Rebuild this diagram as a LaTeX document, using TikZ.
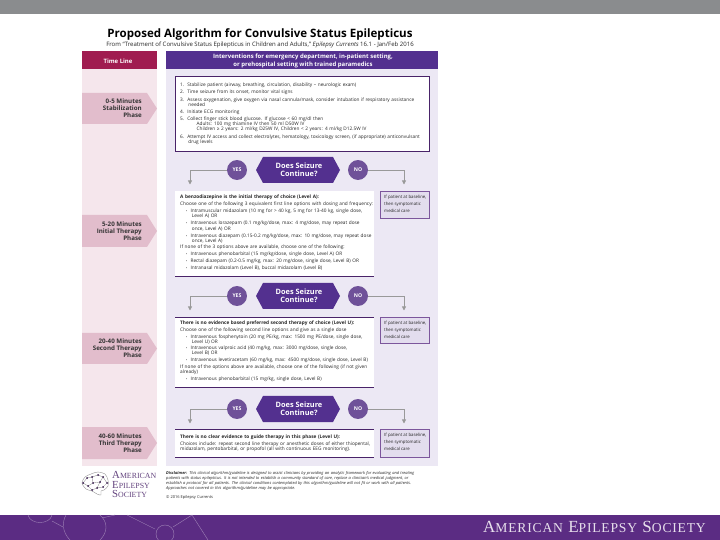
\documentclass[tikz,border=0pt]{standalone}
\usepackage{fontspec}
\setmainfont{Open Sans}
\newfontfamily\footfont[LetterSpace=6]{Liberation Serif}
\newfontfamily\logofont{Liberation Serif}
\usepackage{tikz}
\usetikzlibrary{calc,arrows.meta,positioning}
\definecolor{aesPurple}{HTML}{5B2C83}
\definecolor{aesDeep}{HTML}{53308F}
\definecolor{aesRed}{HTML}{A01C50}
\definecolor{aesLav}{HTML}{ECE8F4}
\definecolor{aesSide}{HTML}{E3DDEE}
\definecolor{aesPink}{HTML}{F5E6EC}
\definecolor{aesPhase}{HTML}{E2BDCC}
\definecolor{aesCircle}{HTML}{6F5199}
\definecolor{aesGray}{HTML}{8A8C8E}
\newcommand{\tiptext}{\fontsize{4.05}{4.3}\selectfont}
\newcommand{\itembul}{\hspace*{5pt}{\fontsize{3}{4}\selectfont\textbullet}\ \ }
\tikzset{
  band/.style={fill=#1, draw=none},
  hexa/.style={fill=aesDeep, draw=none},
  answer/.style={circle, fill=aesCircle, minimum size=17pt, inner sep=0pt, text=white, font=\fontsize{4.4}{5}\selectfont\bfseries},
  flow/.style={draw=black!40, line width=0.7pt, -{Triangle[length=3.5pt,width=3.5pt]}},
  rule/.style={draw=aesPurple!80!black, line width=0.6pt},
  sidebox/.style={fill=aesSide, draw=aesPurple!80, line width=0.5pt},
  note/.style={font=\tiptext, align=left, anchor=north west, inner sep=0pt, text=black!85},
  phase/.style={font=\fontsize{5.3}{6}\selectfont\bfseries, align=right, anchor=east, inner sep=0pt, text=black!80},
  head/.style={font=\fontsize{5.1}{6.8}\selectfont\bfseries, align=center, text=white, inner sep=0pt},
  ask/.style={font=\fontsize{6.3}{7.2}\selectfont\bfseries, align=center, text=white, inner sep=0pt},
  net/.style={draw=white!40!aesPurple, line width=0.35pt},
  brain/.style={draw=black!45, line width=0.3pt},
  synapse/.style={fill=aesPurple!60!black},
  logotext/.style={font=\logofont\fontsize{9.2}{9.2}\selectfont, text=aesPurple!80!black!85, inner sep=0pt, anchor=base west}
}
\newcommand{\phasetag}[3]{
  \fill[aesPhase] (82,#1) -- (147,#1) -- (157,{(#1+#2)/2}) -- (147,#2) -- (82,#2) -- cycle;
  \node[phase] at (142,{(#1+#2)/2}) {#3};
}
\newcommand{\askrow}[2]{
  \fill[hexa] (256,#1) -- (263,{#1-13}) -- (333,{#1-13}) -- (340,#1) -- (333,{#1+13}) -- (263,{#1+13}) -- cycle;
  \node[ask] (ask#2) at (299,#1) {Does Seizure\\Continue?};
  \node[answer] (yes#2) at (237,#1) {YES};
  \node[answer] (no#2) at (358,#1) {NO};
  \coordinate (yesend#2) at (190,{#1+14.5});
  \coordinate (noend#2) at (404,{#1+14.5});
  \draw[flow] (yes#2) -| (yesend#2);
  \draw[flow] (no#2) -| (noend#2);
}
\newcommand{\sidenote}[3]{
  \draw[sidebox] (380,#1) rectangle (429,#2);
  \node[note, font=\fontsize{3.7}{4.3}\selectfont] (side#3) at (384,{#1+4}) {If patient at baseline,\\[1.7pt]then symptomatic\\[1.7pt]medical care};
}
\begin{document}
\begin{tikzpicture}[x=0.03cm,y=-0.03cm]
  \useasboundingbox (0,0) rectangle (720,540);
  \fill[white] (0,0) rectangle (720,540);
  \fill[band=aesGray] (0,0) rectangle (720,14);
  \fill[band=aesPurple] (0,515) rectangle (720,540);
  % background network
  \draw[net] (165,534) circle (9);
  \draw[net] (127,515) -- (155,529);
  \draw[net] (173,527) -- (192,515) -- (208,540);
  \draw[net] (28,515) .. controls (30,525) and (50,525) .. (52,515);
  \draw[net] (52,521) -- (63,527);
  \draw[net] (66,515) .. controls (62,522) and (62,532) .. (70,540);
  \draw[net] (100,515) .. controls (108,522) and (108,532) .. (100,540);
  \draw[net] (102,518) -- (115,515);
  \node[font=\footfont\fontsize{14.5}{16}\selectfont, text=white!85!aesPurple, inner sep=0pt] (footer) at (594.5,526.5) {A{\fontsize{11.6}{16}\selectfont MERICAN} E{\fontsize{11.6}{16}\selectfont PILEPSY} S{\fontsize{11.6}{16}\selectfont OCIETY}};
  % title
  \node[font=\fontsize{9.85}{11}\selectfont\bfseries, inner sep=0pt] (title) at (260,34) {Proposed Algorithm for Convulsive Status Epilepticus};
  \node[font=\fontsize{5.15}{6}\selectfont, inner sep=0pt, text=black!85] (subtitle) at (260,45) {From ``Treatment of Convulsive Status Epilepticus in Children and Adults,'' \textit{Epilepsy Currents} 16.1 - Jan/Feb 2016};
  % columns
  \fill[band=aesRed] (82,51) rectangle (157,69);
  \fill[band=aesPink] (82,69) rectangle (157,466);
  \fill[band=aesDeep] (166,51) rectangle (438,69);
  \fill[band=aesLav] (166,69) rectangle (438,466);
  \node[head] (timeline) at (118,61) {Time Line};
  \node[head] (interv) at (303,60.5) {Interventions for emergency department, in-patient setting,\\or prehospital setting with trained paramedics};
  \phasetag{93}{124}{0-5 Minutes\\Stabilization\\Phase}
  \phasetag{215}{247}{5-20 Minutes\\Initial Therapy\\Phase}
  \phasetag{333}{364}{20-40 Minutes\\Second Therapy\\Phase}
  \phasetag{427}{459}{40-60 Minutes\\Third Therapy\\Phase}
  % stabilization
  \draw[rule, fill=white] (175,76) rectangle (429,151);
  \node[note, text width=215] (stab) at (180,82.5) {%
    1.\ \ Stabilize patient (airway, breathing, circulation, disability -- neurologic exam)\\[2pt]
    2.\ \ Time seizure from its onset, monitor vital signs\\[2pt]
    3.\ \ Assess oxygenation, give oxygen via nasal cannula/mask, consider intubation if respiratory assistance\\
    \hspace*{7pt}needed\\[2pt]
    4.\ \ Initiate ECG monitoring\\[2pt]
    5.\ \ Collect finger stick blood glucose. If glucose < 60 mg/dl then\\
    \hspace*{14pt}Adults: 100 mg thiamine IV then 50 ml D50W IV\\
    \hspace*{14pt}Children ≥ 2 years: 2 ml/kg D25W IV, Children < 2 years: 4 ml/kg D12.5W IV\\[2pt]
    6.\ \ Attempt IV access and collect electrolytes, hematology, toxicology screen, (if appropriate) anticonvulsant\\
    \hspace*{7pt}drug levels};
  \askrow{170}{A}
  % initial therapy
  \fill[white] (175,191) rectangle (374,276);
  \draw[rule] (175,276) -- (374,276);
  \node[note, text width=175] (init) at (180,195) {%
    \textbf{A benzodiazepine is the initial therapy of choice (Level A):}\\[1.7pt]
    Choose one of the following 3 equivalent first line options with dosing and frequency:\\[1.7pt]
    \itembul Intramuscular midazolam (10 mg for > 40 kg, 5 mg for 13-40 kg, single dose,\\
    \hspace*{10pt}Level A) OR\\[1.7pt]
    \itembul Intravenous lorazepam (0.1 mg/kg/dose, max: 4 mg/dose, may repeat dose\\
    \hspace*{10pt}once, Level A) OR\\[1.7pt]
    \itembul Intravenous diazepam (0.15-0.2 mg/kg/dose, max: 10 mg/dose, may repeat dose\\
    \hspace*{10pt}once, Level A)\\[1pt]
    If none of the 3 options above are available, choose one of the following:\\[1.7pt]
    \itembul Intravenous phenobarbital (15 mg/kg/dose, single dose, Level A) OR\\[1.7pt]
    \itembul Rectal diazepam (0.2-0.5 mg/kg, max: 20 mg/dose, single dose, Level B) OR\\[1.7pt]
    \itembul Intranasal midazolam (Level B), buccal midazolam (Level B)};
  \sidenote{191}{218}{A}
  \askrow{296}{B}
  % second therapy
  \fill[white] (175,317) rectangle (374,387);
  \draw[rule] (175,317) -- (374,317) (175,387) -- (374,387);
  \node[note, text width=175] (second) at (180,321) {%
    \textbf{There is no evidence based preferred second therapy of choice (Level U):}\\[1.7pt]
    Choose one of the following second line options and give as a single dose\\[1.2pt]
    \itembul Intravenous fosphenytoin (20 mg PE/kg, max: 1500 mg PE/dose, single dose,\\
    \hspace*{10pt}Level U) OR\\[1.2pt]
    \itembul Intravenous valproic acid (40 mg/kg, max: 3000 mg/dose, single dose,\\
    \hspace*{10pt}Level B) OR\\[1.7pt]
    \itembul Intravenous levetiracetam (60 mg/kg, max: 4500 mg/dose, single dose, Level B)\\[1.2pt]
    If none of the options above are available, choose one of the following (if not given\\
    already)\\[1.7pt]
    \itembul Intravenous phenobarbital (15 mg/kg, single dose, Level B)};
  \sidenote{317}{343}{B}
  \askrow{409}{C}
  % third therapy
  \fill[white] (175,429) rectangle (374,457);
  \draw[rule] (175,429) -- (374,429) (175,457) -- (374,457);
  \node[note, text width=175] (third) at (180,435) {%
    \textbf{There is no clear evidence to guide therapy in this phase (Level U):}\\[1pt]
    Choices include: repeat second line therapy or anesthetic doses of either thiopental,\\
    midazolam, pentobarbital, or propofol (all with continuous EEG monitoring).};
  \sidenote{429}{457}{C}
  % logo
  \draw[brain] plot[smooth cycle] coordinates {(82,483) (85,477) (91,474) (98,472) (105,474) (108,480) (108,486) (104,490) (101,491) (101,495) (97,494) (92,491) (86,489)};
  \draw[brain] (87,478) -- (92,477) -- (98,475) -- (103,477) -- (107,483) -- (103,487) -- (97,488) -- (92,490) -- (88,486) -- (83,483) -- (87,478) (92,477) -- (93,483) -- (100,482) -- (103,477) (93,483) -- (88,486) (100,482) -- (97,488);
  \foreach \dotx/\doty in {87/478,83/483,92/477,98/475,103/477,107/483,100/482,93/483,88/486,97/488,103/487,92/490}{
    \fill[synapse] (\dotx,\doty) circle (1);
  }
  \node[logotext] (logoA) at (112,478.5) {A{\fontsize{6.7}{9.2}\selectfont MERICAN}};
  \node[logotext] (logoE) at (112,488) {E{\fontsize{6.7}{9.2}\selectfont PILEPSY}};
  \node[logotext] (logoS) at (112,497.5) {S{\fontsize{6.7}{9.2}\selectfont OCIETY}};
  % disclaimer
  \node[note, font=\fontsize{3.4}{4.3}\selectfont\itshape, text width=240] (disc) at (166,471) {\textbf{Disclaimer:} This clinical algorithm/guideline is designed to assist clinicians by providing an analytic framework for evaluating and treating\\
    patients with status epilepticus. It is not intended to establish a community standard of care, replace a clinician's medical judgment, or\\
    establish a protocol for all patients. The clinical conditions contemplated by this algorithm/guideline will not fit or work with all patients.\\
    Approaches not covered in this algorithm/guideline may be appropriate.};
  \node[note, font=\fontsize{3.4}{4.3}\selectfont] (cite) at (166,495) {\copyright\ 2016 Epilepsy Currents};
\end{tikzpicture}
\end{document}
